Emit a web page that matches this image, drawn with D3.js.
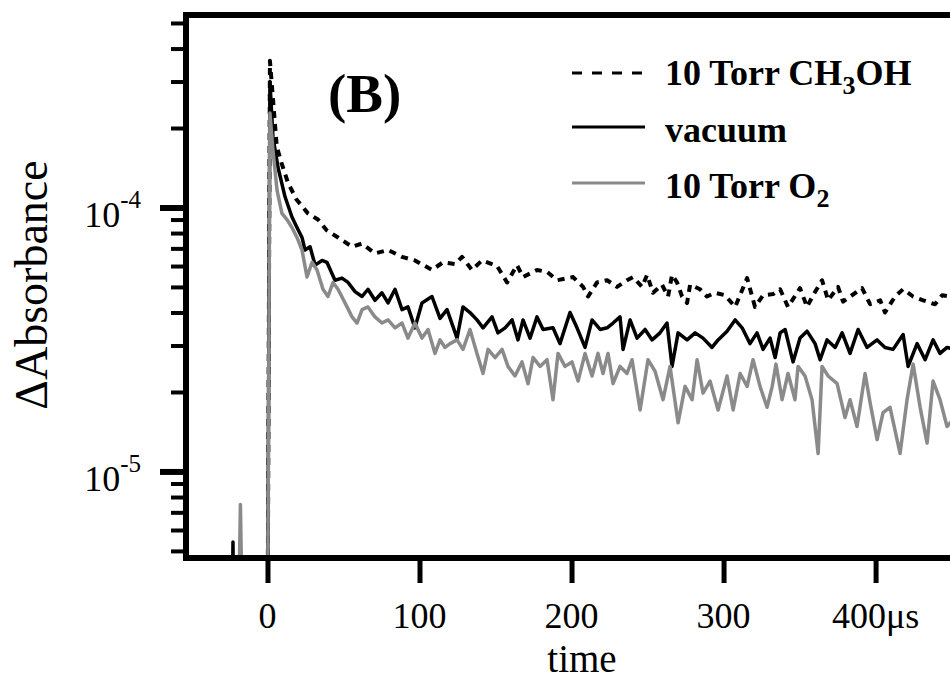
<!DOCTYPE html>
<html>
<head>
<meta charset="utf-8">
<script src="https://cdn.jsdelivr.net/npm/d3@7"></script>
<style>
  body { margin: 0; background: #fff; }
  text { font-family: "Liberation Serif", "Times New Roman", serif; }
</style>
</head>
<body>
<div id="chart"></div>
<script>
// [time (us), delta absorbance]
const ch3ohData = [
  [-54, 2e-6], [0, 2e-6], [1.6, 3.6e-4], [6.1, 1.7e-4], [9.3, 1.47e-4], [13.5, 1.24e-4], [19.2, 1.07e-4],
  [26.6, 9.5e-5], [33.2, 9.0e-5], [38.9, 8.2e-5], [46.4, 7.7e-5], [55.6, 7.1e-5], [62.2, 7.3e-5],
  [70.7, 6.7e-5], [79.3, 6.9e-5], [88.5, 6.5e-5], [97.0, 6.3e-5], [108.2, 5.8e-5], [115.5, 6.2e-5],
  [123.4, 6.1e-5], [128.0, 6.5e-5], [134.5, 5.8e-5], [141.1, 6.3e-5], [151.0, 6.0e-5], [157.6, 5.2e-5],
  [164.1, 6.05e-5], [168.1, 5.45e-5], [177.3, 5.8e-5], [183.9, 5.7e-5], [190.5, 5.3e-5], [201.0, 5.45e-5],
  [207.6, 5.0e-5], [210.9, 4.6e-5], [216.8, 5.2e-5], [223.4, 5.3e-5], [229.9, 5.0e-5], [236.5, 5.3e-5],
  [240.5, 5.45e-5], [246.4, 5.0e-5], [249.7, 5.55e-5], [253.6, 4.75e-5], [259.5, 5.1e-5], [263.5, 4.6e-5],
  [266.1, 5.55e-5], [269.4, 5.2e-5], [272.7, 4.6e-5], [276.0, 4.35e-5], [278.0, 5.1e-5], [284.5, 4.9e-5],
  [289.1, 4.6e-5], [294.4, 4.75e-5], [301.0, 4.65e-5], [307.6, 4.2e-5], [315.5, 5.4e-5], [320.7, 4.2e-5],
  [326.0, 4.65e-5], [332.6, 4.7e-5], [337.2, 4.9e-5], [342.4, 4.2e-5], [350.3, 4.95e-5], [354.9, 4.2e-5],
  [358.9, 4.65e-5], [364.8, 5.3e-5], [368.8, 4.45e-5], [375.3, 5.0e-5], [378.6, 4.4e-5], [384.5, 4.65e-5],
  [391.1, 4.95e-5], [396.4, 4.3e-5], [403.0, 4.45e-5], [406.2, 4.0e-5], [412.8, 4.6e-5], [418.1, 4.9e-5],
  [424.7, 4.6e-5], [431.3, 4.45e-5], [439.1, 4.3e-5], [443.8, 4.65e-5], [449.0, 4.6e-5], [455.0, 4.5e-5]
];

const vacuumData = [
  [-54, 2e-6], [-23.4, 2e-6], [-22.7, 5.4e-6], [-22.0, 2e-6], [0, 2e-6], [1.6, 3.0e-4], [3.6, 1.85e-4],
  [6.9, 1.42e-4], [11.5, 1.10e-4], [16.1, 9.2e-5], [19.4, 8.4e-5], [22.7, 7.7e-5], [24.7, 6.9e-5],
  [28.0, 7.1e-5], [31.3, 6.05e-5], [35.9, 6.3e-5], [39.1, 6.2e-5], [44.4, 5.3e-5], [49.0, 5.4e-5],
  [53.0, 5.2e-5], [57.6, 4.8e-5], [62.2, 4.6e-5], [66.1, 4.9e-5], [70.7, 4.45e-5], [75.3, 4.75e-5],
  [79.3, 4.35e-5], [83.9, 4.9e-5], [88.5, 4.1e-5], [92.4, 4.2e-5], [97.0, 3.5e-5], [101.6, 4.35e-5],
  [108.2, 4.6e-5], [113.5, 3.8e-5], [118.1, 4.1e-5], [124.7, 3.2e-5], [128.6, 4.2e-5], [133.2, 4.0e-5],
  [137.8, 3.75e-5], [141.8, 3.5e-5], [147.7, 3.85e-5], [151.6, 3.35e-5], [156.3, 3.5e-5], [160.9, 3.75e-5],
  [164.8, 3.15e-5], [168.1, 3.75e-5], [172.7, 3.2e-5], [177.3, 3.85e-5], [181.3, 3.45e-5], [187.8, 3.5e-5],
  [192.4, 3.05e-5], [199.0, 4.0e-5], [203.6, 3.5e-5], [208.9, 2.95e-5], [213.5, 3.75e-5], [218.8, 3.45e-5],
  [223.4, 3.5e-5], [227.3, 3.65e-5], [231.9, 3.85e-5], [233.9, 2.9e-5], [238.5, 3.75e-5], [243.1, 3.2e-5],
  [248.4, 3.45e-5], [253.0, 3.15e-5], [258.2, 3.35e-5], [262.8, 3.65e-5], [266.1, 2.5e-5], [270.1, 3.35e-5],
  [276.0, 3.15e-5], [281.3, 3.35e-5], [286.5, 3.2e-5], [292.4, 2.95e-5], [296.4, 3.15e-5], [302.3, 3.4e-5],
  [307.6, 3.75e-5], [312.2, 3.5e-5], [317.4, 3.05e-5], [322.0, 3.35e-5], [326.0, 2.9e-5], [330.6, 3.2e-5],
  [333.9, 2.7e-5], [337.2, 3.35e-5], [340.5, 3.45e-5], [345.7, 2.6e-5], [350.3, 3.2e-5], [354.9, 3.4e-5],
  [360.2, 3.05e-5], [363.5, 2.65e-5], [368.1, 3.15e-5], [373.4, 2.95e-5], [378.0, 3.35e-5], [383.2, 2.8e-5],
  [388.5, 3.45e-5], [394.4, 2.95e-5], [401.0, 3.15e-5], [406.2, 2.95e-5], [411.5, 2.9e-5], [418.1, 3.3e-5],
  [421.4, 2.5e-5], [427.3, 3.05e-5], [432.6, 2.65e-5], [437.8, 3.15e-5], [442.4, 2.8e-5], [447.0, 2.95e-5],
  [452.3, 2.9e-5]
];

const o2Data = [
  [-54, 2e-6], [-19.5, 2e-6], [-17.8, 7.5e-6], [-16.2, 2e-6], [0, 2e-6], [1.6, 2.28e-4], [3.6, 1.65e-4],
  [6.3, 1.16e-4], [9.5, 9.5e-5], [12.8, 9.0e-5], [16.1, 8.4e-5], [19.4, 7.7e-5], [22.7, 6.9e-5],
  [26.0, 5.45e-5], [29.3, 6.2e-5], [32.6, 5.8e-5], [36.5, 4.9e-5], [39.8, 4.6e-5], [43.1, 5.2e-5],
  [46.4, 4.9e-5], [51.0, 4.35e-5], [55.6, 3.85e-5], [58.9, 3.65e-5], [62.2, 4.1e-5], [66.1, 4.2e-5],
  [70.7, 3.85e-5], [75.3, 3.65e-5], [79.3, 3.75e-5], [83.9, 3.5e-5], [88.5, 3.65e-5], [92.4, 3.2e-5],
  [97.0, 3.65e-5], [101.6, 3.2e-5], [105.6, 3.45e-5], [110.2, 2.8e-5], [113.5, 3.15e-5], [116.8, 2.95e-5],
  [120.1, 3.05e-5], [124.7, 3.15e-5], [128.6, 2.9e-5], [133.2, 3.45e-5], [137.8, 2.8e-5], [141.8, 2.35e-5],
  [145.1, 2.9e-5], [149.7, 2.7e-5], [154.3, 2.9e-5], [158.2, 2.5e-5], [162.8, 2.3e-5], [167.4, 2.6e-5],
  [171.4, 2.15e-5], [174.7, 2.7e-5], [179.3, 2.5e-5], [183.9, 2.65e-5], [187.8, 1.87e-5], [191.1, 2.8e-5],
  [195.7, 2.5e-5], [200.3, 2.6e-5], [204.3, 2.2e-5], [208.9, 2.8e-5], [213.5, 2.3e-5], [217.4, 2.8e-5],
  [220.7, 2.35e-5], [224.0, 2.8e-5], [227.3, 2.15e-5], [231.9, 2.5e-5], [236.5, 2.35e-5], [239.8, 2.65e-5],
  [245.1, 1.71e-5], [250.3, 2.65e-5], [254.9, 2.4e-5], [260.2, 1.87e-5], [264.8, 2.5e-5], [270.1, 1.53e-5],
  [274.7, 2.1e-5], [279.3, 1.87e-5], [282.6, 2.65e-5], [286.5, 1.98e-5], [291.1, 2.2e-5], [296.4, 1.71e-5],
  [302.3, 2.3e-5], [306.3, 1.71e-5], [310.9, 2.35e-5], [315.5, 2.1e-5], [319.4, 2.65e-5], [324.0, 2.1e-5],
  [328.6, 1.75e-5], [332.0, 2.1e-5], [334.5, 2.55e-5], [338.5, 1.87e-5], [342.4, 2.35e-5], [347.0, 1.87e-5],
  [349.0, 2.5e-5], [353.6, 2.3e-5], [358.2, 1.87e-5], [362.2, 1.17e-5], [364.8, 2.5e-5], [368.8, 2.3e-5],
  [374.7, 2.15e-5], [379.9, 1.6e-5], [383.2, 1.87e-5], [387.8, 1.48e-5], [393.1, 2.35e-5], [396.4, 1.82e-5],
  [401.0, 1.32e-5], [404.9, 1.67e-5], [409.5, 1.75e-5], [416.1, 1.17e-5], [420.7, 1.87e-5], [424.7, 2.55e-5],
  [429.3, 1.75e-5], [433.9, 1.28e-5], [437.8, 2.2e-5], [442.4, 1.87e-5], [447.0, 1.48e-5], [452.3, 1.6e-5]
];

const xTicks = [0, 100, 200, 300, 400];
const xTickLabels = ["0", "100", "200", "300", "400μs"];
const yMajor = [1e-5, 1e-4];
const yMajorExp = ["-5", "-4"];
const yMinor = [5e-6, 6e-6, 7e-6, 8e-6, 9e-6,
  2e-5, 3e-5, 4e-5, 5e-5, 6e-5, 7e-5, 8e-5, 9e-5,
  2e-4, 3e-4, 4e-4, 5e-4];

const width = 950, height = 680;

const svg = d3.select("#chart")
  .append("svg")
    .attr("width", width)
    .attr("height", height);

// scales
const x = d3.scaleLinear()
  .domain([-53.6, 470])
  .range([186, 982]);
const y = d3.scaleLog()
  .domain([4.7e-6, 5.36e-4])
  .range([558, 15]);

const plotLeft = x.range()[0], plotTop = y.range()[1], plotBottom = y.range()[0];

svg.append("clipPath").attr("id", "plot-clip")
  .append("rect")
    .attr("x", plotLeft)
    .attr("y", plotTop)
    .attr("width", width - plotLeft)
    .attr("height", plotBottom - plotTop);

// curves
const line = d3.line()
  .x(d => x(d[0]))
  .y(d => y(d[1]));

const series = [
  {data: ch3ohData, color: "#000", width: 4, dash: "7,6"},
  {data: vacuumData, color: "#000", width: 3.5, dash: null},
  {data: o2Data, color: "#8a8a8a", width: 3.5, dash: null}
];

svg.append("g")
  .attr("clip-path", "url(#plot-clip)")
  .selectAll("path")
  .data(series)
  .join("path")
    .attr("d", d => line(d.data))
    .attr("fill", "none")
    .attr("stroke", d => d.color)
    .attr("stroke-width", d => d.width)
    .attr("stroke-dasharray", d => d.dash)
    .attr("stroke-linejoin", "round");

// frame: left axis, top and bottom lines
const frame = svg.append("g").attr("stroke", "#000").attr("stroke-width", 6);
frame.append("line").attr("x1", plotLeft).attr("x2", plotLeft).attr("y1", plotTop - 3).attr("y2", plotBottom + 3);
frame.append("line").attr("x1", plotLeft - 3).attr("x2", width).attr("y1", plotTop).attr("y2", plotTop);
frame.append("line").attr("x1", plotLeft - 3).attr("x2", width).attr("y1", plotBottom).attr("y2", plotBottom);

// y ticks
const yMinorAxis = svg.append("g")
  .attr("transform", `translate(${plotLeft - 3},0)`)
  .call(d3.axisLeft(y).tickValues(yMinor).tickSize(12).tickFormat(""));
yMinorAxis.select(".domain").remove();
yMinorAxis.selectAll(".tick line").attr("stroke-width", 4);

const yMajorAxis = svg.append("g")
  .attr("transform", `translate(${plotLeft - 3},0)`)
  .call(d3.axisLeft(y).tickValues(yMajor).tickSize(23).tickFormat(""));
yMajorAxis.select(".domain").remove();
yMajorAxis.selectAll(".tick line").attr("stroke-width", 6);

const yLab = svg.append("g").selectAll("text")
  .data(yMajor)
  .join("text")
    .attr("x", 141)
    .attr("y", d => y(d) + 20)
    .attr("text-anchor", "end")
    .attr("font-size", 36);
yLab.append("tspan").text("10");
yLab.append("tspan")
  .attr("dy", -19)
  .attr("font-size", 25)
  .text((d, i) => yMajorExp[i]);

// x ticks
const xAxis = svg.append("g")
  .attr("transform", `translate(0,${plotBottom + 3})`)
  .call(d3.axisBottom(x).tickValues(xTicks).tickSize(22).tickFormat(""));
xAxis.select(".domain").remove();
xAxis.selectAll(".tick line").attr("stroke-width", 5);

svg.append("g").selectAll("text")
  .data(xTicks)
  .join("text")
    .attr("x", d => x(d))
    .attr("y", 628)
    .attr("text-anchor", "middle")
    .attr("font-size", 36)
    .text((d, i) => xTickLabels[i]);

// axis titles
svg.append("text")
  .attr("x", 582)
  .attr("y", 671.5)
  .attr("text-anchor", "middle")
  .attr("font-size", 39)
  .text("time");

svg.append("text")
  .attr("transform", "translate(47,285) rotate(-90)")
  .attr("text-anchor", "middle")
  .attr("font-size", 46)
  .text("ΔAbsorbance");

// panel label
svg.append("text")
  .attr("x", 328)
  .attr("y", 112)
  .attr("font-size", 55)
  .attr("font-weight", "bold")
  .text("(B)");

// legend
const legend = svg.append("g").attr("font-weight", "bold").attr("font-size", 36);
const rows = [
  {y: 73, base: 85, s: series[0], main: "10 Torr CH", sub: "3", tail: "OH"},
  {y: 127, base: 142, s: series[1], main: "vacuum", sub: null, tail: null},
  {y: 183, base: 198, s: series[2], main: "10 Torr O", sub: "2", tail: null}
];
rows.forEach(r => {
  legend.append("line")
    .attr("x1", 572).attr("x2", 645)
    .attr("y1", r.y).attr("y2", r.y)
    .attr("stroke", r.s.color)
    .attr("stroke-width", 3)
    .attr("stroke-dasharray", r.s.dash ? "10,10" : null);
  const t = legend.append("text").attr("x", 665).attr("y", r.base);
  t.append("tspan").text(r.main);
  if (r.sub) t.append("tspan").attr("dy", 9).attr("font-size", 26).text(r.sub);
  if (r.tail) t.append("tspan").attr("dy", -9).text(r.tail);
});
</script>
</body>
</html>
